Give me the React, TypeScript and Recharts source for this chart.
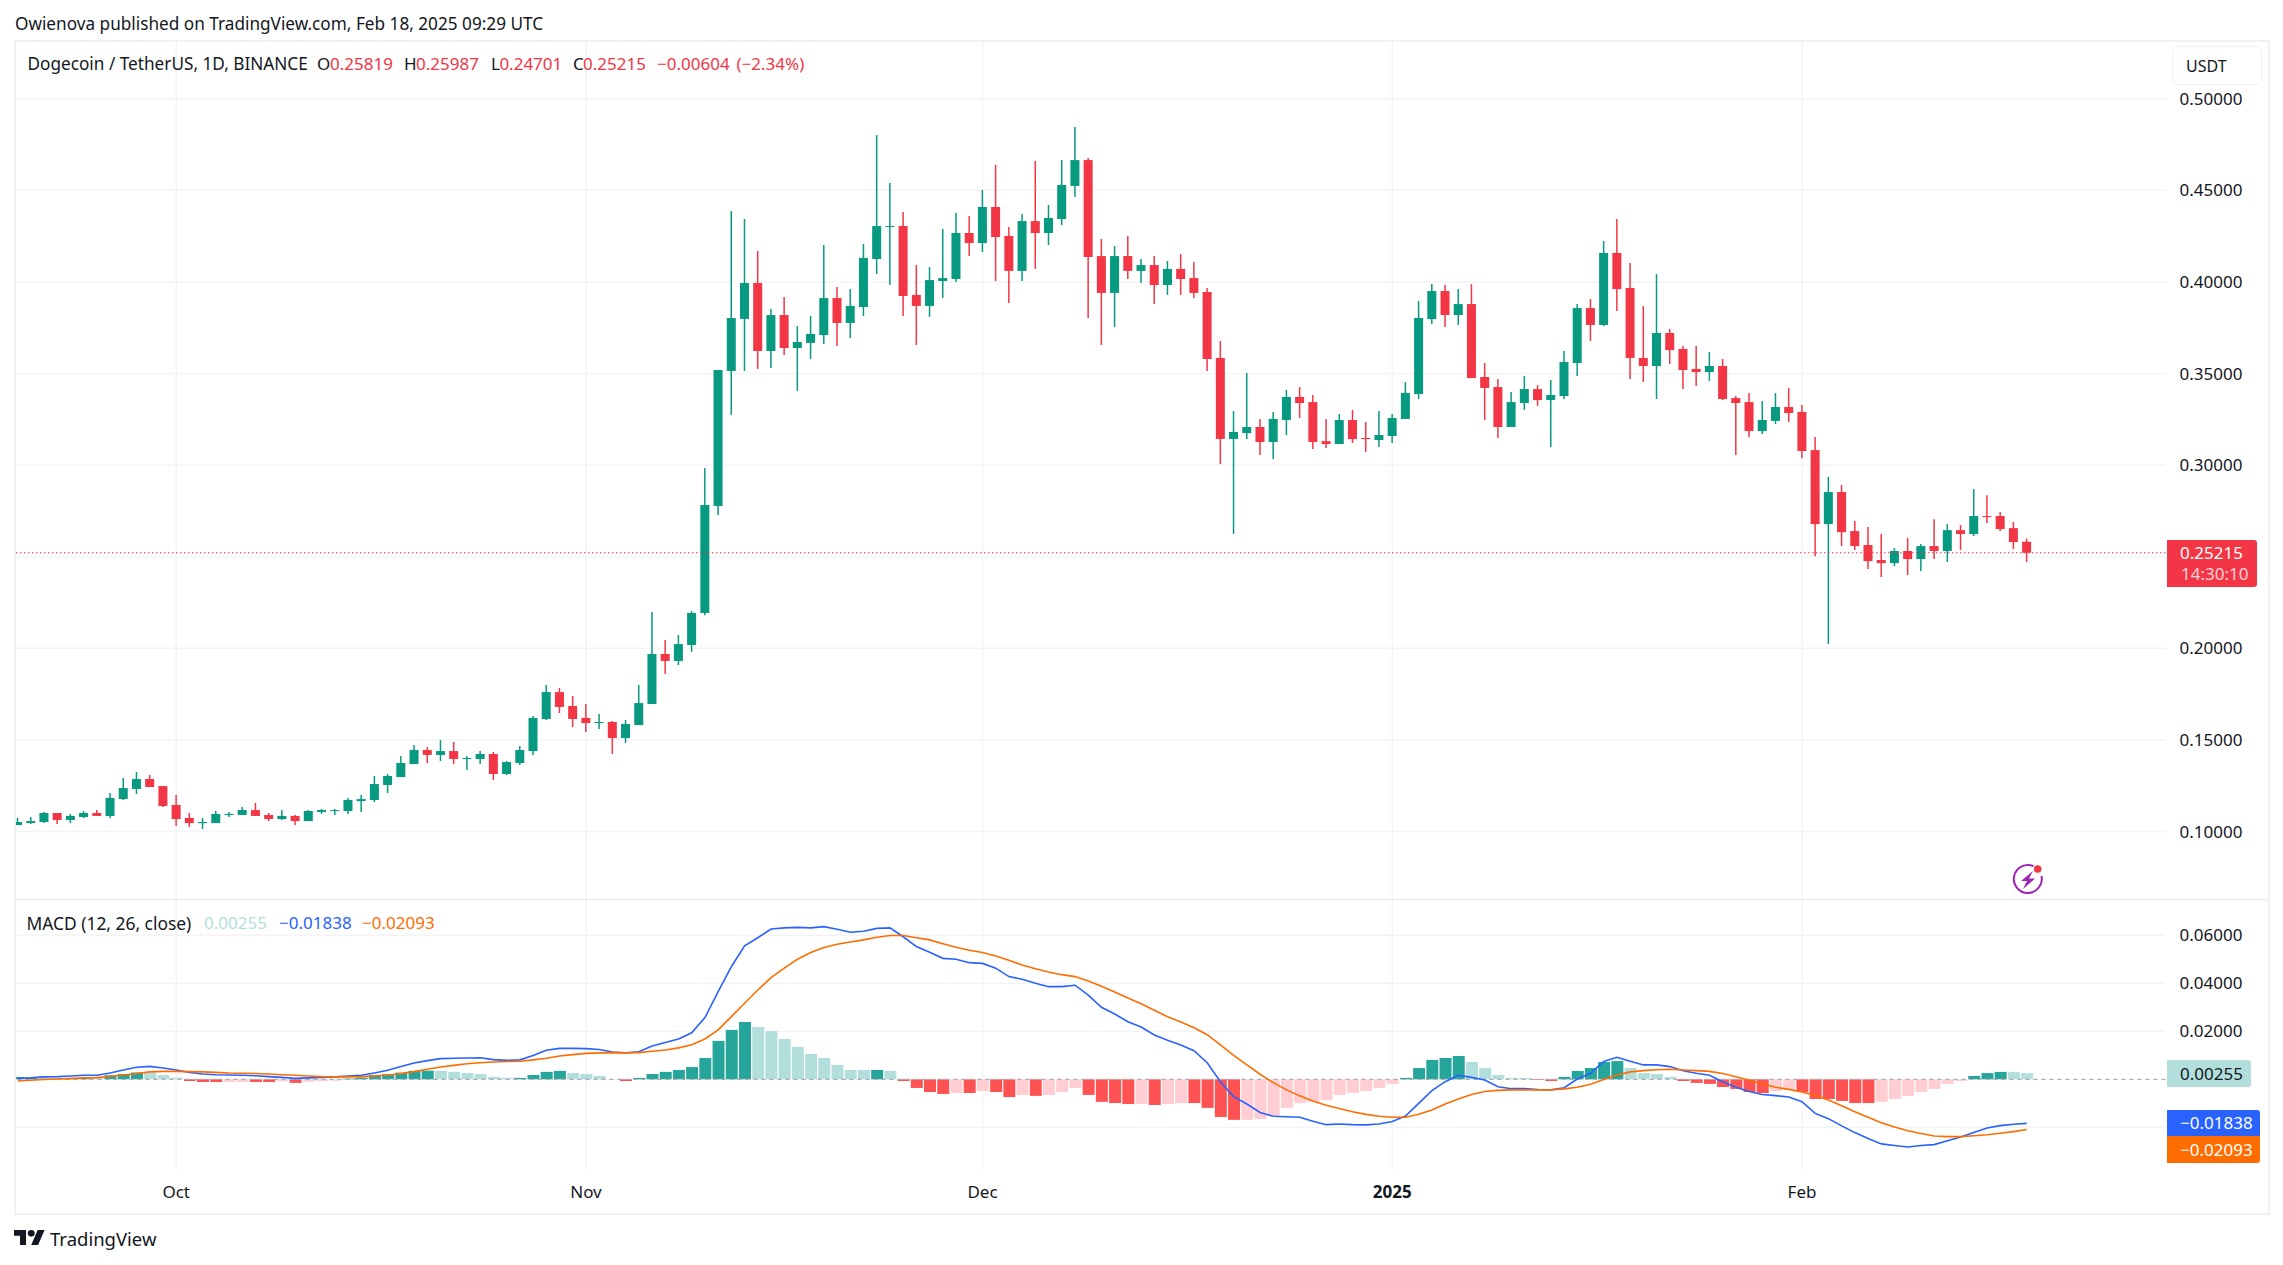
import React from "react";
import { ComposedChart, Bar, Line, Cell, XAxis, YAxis, CartesianGrid, ReferenceLine } from "recharts";

// Daily candles, Sep 19 2024 to Feb 18 2025
const opens = [
  .1035,.1046,.1052,.1101,.1063,.1079,.1101,.1085,.1177,.1232,.1287,.1248,
  .1145,.1074,.1046,.1046,.1090,.1090,.1117,.1090,.1068,.1085,.1057,.1106,.1112,.1112,.1166,.1172,.1254,.1297,.1368,.1445,.1418,.1439,.1396,.1396,.1423,.1314,.1374,.1439,.1614,.1761,.1685,
  .1620,.1592,.1598,.1510,.1581,.1696,.1969,.1931,.2018,.2193,.2777,.3514,.3798,.3994,.3623,.3819,.3639,.3667,.3710,.3912,.3776,.3863,.4125,.4300,.4305,.3929,.3869,.4005,.4016,.4267,
  .4212,.4409,.4251,.4060,.4332,.4267,.4343,.4524,.4665,.4141,.3940,.4141,.4060,.4092,.3983,.4071,.4021,.3945,.3585,.3143,.3175,.3208,.3126,.3246,.3372,.3344,.3131,.3115,.3246,.3148,.3137,
  .3159,.3252,.3388,.3797,.3950,.3819,.3879,.3481,.3426,.3208,.3339,.3415,.3355,.3377,.3557,.3857,.3765,.4158,.3967,.3585,.3541,.3721,.3634,.3525,.3508,.3541,.3366,.3344,.3186,.3241,.3317,
  .3290,.3082,.2678,.2853,.2640,.2564,.2482,.2465,.2531,.2487,.2558,.2531,.2645,.2624,.2722,.2722,.2656,.25819,
];
const highs = [
  .1074,.1079,.1106,.1101,.1096,.1112,.1117,.1210,.1292,.1325,.1308,.1248,
  .1199,.1101,.1074,.1112,.1106,.1134,.1156,.1101,.1117,.1090,.1117,.1123,.1123,.1183,.1199,.1303,.1314,.1412,.1472,.1461,.1499,.1489,.1412,.1439,.1434,.1385,.1467,.1630,.1800,.1783,.1740,
  .1696,.1641,.1603,.1609,.1800,.2198,.2045,.2073,.2204,.2984,.3519,.4387,.4343,.4169,.3852,.3918,.3759,.3814,.4202,.3972,.3961,.4207,.4802,.4540,.4382,.4092,.4081,.4289,.4376,.4360,
  .4502,.4638,.4300,.4371,.4660,.4420,.4665,.4846,.4676,.4234,.4196,.4251,.4125,.4141,.4114,.4152,.4109,.3967,.3677,.3295,.3503,.3252,.3290,.3410,.3426,.3383,.3252,.3279,.3301,.3235,.3295,
  .3279,.3454,.3896,.3988,.3983,.3961,.3988,.3557,.3470,.3399,.3486,.3437,.3464,.3623,.3879,.3907,.4223,.4343,.4103,.3868,.4043,.3743,.3650,.3650,.3617,.3579,.3377,.3393,.3350,.3393,.3421,
  .3328,.3153,.2935,.2891,.2695,.2662,.2624,.2547,.2602,.2569,.2705,.2678,.2673,.2869,.2836,.2744,.2689,.25987,
];
const lows = [
  .1035,.1041,.1046,.1041,.1046,.1074,.1085,.1074,.1172,.1205,.1243,.1134,
  .1030,.1025,.1014,.1046,.1079,.1090,.1085,.1057,.1063,.1035,.1057,.1096,.1090,.1096,.1106,.1161,.1210,.1297,.1368,.1374,.1385,.1368,.1336,.1368,.1281,.1308,.1363,.1418,.1609,.1647,.1570,
  .1543,.1559,.1423,.1483,.1581,.1696,.1860,.1909,.1980,.2180,.2728,.3274,.3514,.3525,.3530,.3601,.3405,.3579,.3661,.3650,.3694,.3814,.4043,.3983,.3814,.3656,.3809,.3912,.4000,.4141,
  .4163,.4005,.3885,.4005,.4071,.4202,.4311,.4464,.3803,.3656,.3754,.4016,.3994,.3880,.3929,.3929,.3912,.3514,.3006,.2624,.3142,.3055,.3033,.3164,.3257,.3088,.3093,.3115,.3121,.3071,.3099,
  .3121,.3252,.3361,.3770,.3754,.3765,.3475,.3246,.3148,.3208,.3301,.3323,.3099,.3361,.3486,.3677,.3759,.3841,.3470,.3454,.3361,.3552,.3415,.3432,.3459,.3355,.3055,.3153,.3170,.3224,.3235,
  .3038,.2503,.2023,.2558,.2536,.2433,.2389,.2449,.2400,.2422,.2487,.2471,.2536,.2613,.2684,.2640,.2542,.24701,
];
const closes = [
  .1052,.1057,.1101,.1063,.1085,.1101,.1085,.1183,.1237,.1287,.1243,.1139,
  .1068,.1046,.1052,.1096,.1096,.1117,.1085,.1068,.1085,.1057,.1112,.1117,.1117,.1172,.1177,.1259,.1303,.1374,.1445,.1418,.1439,.1396,.1401,.1423,.1314,.1379,.1445,.1620,.1761,.1680,.1614,
  .1592,.1598,.1510,.1587,.1701,.1969,.1931,.2023,.2193,.2782,.3519,.3803,.3994,.3623,.3819,.3639,.3672,.3716,.3912,.3776,.3869,.4131,.4305,.4305,.3923,.3869,.4010,.4021,.4267,.4212,
  .4409,.4245,.4060,.4332,.4267,.4349,.4529,.4665,.4136,.3940,.4141,.4060,.4092,.3983,.4071,.4016,.3940,.3579,.3143,.3181,.3208,.3126,.3252,.3372,.3339,.3126,.3115,.3246,.3142,.3142,.3164,
  .3257,.3394,.3803,.3950,.3819,.3879,.3475,.3421,.3208,.3344,.3415,.3355,.3383,.3563,.3857,.3765,.4158,.3961,.3585,.3541,.3721,.3628,.3519,.3508,.3541,.3361,.3339,.3186,.3246,.3317,.3284,
  .3077,.2678,.2853,.2634,.2558,.2476,.2465,.2531,.2487,.2558,.2531,.2645,.2624,.2722,.2716,.2651,.2580,.25215,
];

// MACD pane, one value per candle
const macdLine = [
  .0004,.0006,.0010,.0011,.0014,.0017,.0017,.0026,.0039,.0050,.0054,.0047,
  .0039,.0029,.0022,.0019,.0018,.0017,.0015,.0011,.0008,.0004,.0006,.0008,.0010,.0014,.0017,.0026,.0038,.0053,.0068,.0078,.0086,.0088,.0089,.0090,.0082,.0079,.0081,.0099,.0121,.0129,.0129,
  .0128,.0124,.0114,.0110,.0115,.0139,.0153,.0168,.0194,.0257,.0365,.0469,.0556,.0590,.0626,.0631,.0633,.0631,.0636,.0625,.0613,.0617,.0629,.0631,.0594,.0553,.0529,.0504,.0500,.0486,
  .0483,.0463,.0428,.0417,.0400,.0386,.0386,.0392,.0351,.0300,.0272,.0240,.0218,.0185,.0163,.0143,.0119,.0069,-.0010,-.0072,-.0103,-.0138,-.0154,-.0156,-.0158,-.0175,-.0189,-.0186,-.0189,-.0190,-.0186,
  -.0176,-.0153,-.0100,-.0047,-.0010,.0017,.0008,-.0003,-.0031,-.0039,-.0039,-.0043,-.0044,-.0035,.0001,.0025,.0074,.0092,.0075,.0060,.0060,.0053,.0036,.0025,.0017,-.0010,-.0033,-.0051,-.0063,-.0068,-.0074,
  -.0093,-.0142,-.0164,-.0194,-.0222,-.0247,-.0269,-.0276,-.0282,-.0276,-.0272,-.0256,-.0240,-.0222,-.0203,-.0193,-.0187,-.01838,
];
const signalLine = [
  -.0007,-.0004,-.0001,.0001,.0003,.0006,.0007,.0013,.0018,.0024,.0031,.0033,
  .0033,.0032,.0031,.0029,.0026,.0025,.0024,.0022,.0019,.0017,.0014,.0011,.0010,.0010,.0011,.0014,.0018,.0024,.0032,.0042,.0051,.0058,.0065,.0069,.0072,.0074,.0075,.0081,.0088,.0097,.0103,
  .0108,.0110,.0111,.0110,.0111,.0117,.0122,.0131,.0144,.0168,.0206,.0261,.0317,.0372,.0424,.0463,.0500,.0528,.0549,.0563,.0572,.0581,.0592,.0599,.0599,.0590,.0581,.0565,.0550,.0538,
  .0528,.0514,.0496,.0476,.0461,.0447,.0436,.0428,.0410,.0388,.0364,.0339,.0315,.0288,.0261,.0239,.0215,.0186,.0143,.0100,.0060,.0021,-.0014,-.0044,-.0069,-.0090,-.0108,-.0122,-.0135,-.0146,-.0154,
  -.0158,-.0158,-.0146,-.0128,-.0103,-.0082,-.0063,-.0051,-.0046,-.0044,-.0044,-.0044,-.0044,-.0040,-.0033,-.0021,-.0001,.0018,.0031,.0036,.0040,.0042,.0039,.0036,.0033,.0024,.0011,-.0004,-.0019,-.0033,-.0042,
  -.0053,-.0067,-.0086,-.0110,-.0135,-.0158,-.0181,-.0199,-.0214,-.0226,-.0236,-.0239,-.0239,-.0235,-.0231,-.0225,-.0218,-.02093,
];
const histogram = [
  .0010,.0008,.0007,.0006,.0006,.0006,.0006,.0017,.0022,.0028,.0028,.0018,
  .0006,-.0007,-.0011,-.0011,-.0011,-.0011,-.0011,-.0011,-.0008,-.0015,-.0010,-.0007,-.0006,.0003,.0007,.0017,.0021,.0028,.0035,.0036,.0035,.0031,.0026,.0022,.0010,.0006,.0006,.0018,.0031,.0035,.0026,
  .0022,.0014,.0001,-.0007,.0006,.0022,.0031,.0039,.0051,.0089,.0160,.0206,.0239,.0218,.0201,.0168,.0135,.0106,.0089,.0060,.0039,.0039,.0039,.0035,-.0007,-.0036,-.0053,-.0061,-.0057,-.0057,
  -.0049,-.0053,-.0074,-.0065,-.0069,-.0065,-.0053,-.0036,-.0065,-.0094,-.0099,-.0103,-.0103,-.0107,-.0103,-.0099,-.0099,-.0119,-.0157,-.0169,-.0169,-.0165,-.0153,-.0119,-.0099,-.0094,-.0086,-.0065,-.0057,-.0049,-.0036,
  -.0019,.0006,.0047,.0081,.0089,.0097,.0072,.0047,.0018,.0006,.0006,-.0003,-.0007,.0010,.0035,.0047,.0072,.0076,.0047,.0026,.0022,.0010,-.0007,-.0015,-.0019,-.0032,-.0040,-.0053,-.0057,-.0049,-.0044,
  -.0053,-.0082,-.0082,-.0090,-.0099,-.0099,-.0094,-.0082,-.0069,-.0053,-.0040,-.0019,-.0007,.0014,.0026,.0031,.0031,.00255,
];
const histTone = "TTLLLTL" + "TTT" + "LLL" + "RRR" + "PP" + "RR" + "P" + "R" + "PPP" + "TTTTTTT" + "LLLLLL" + "TTTT" + "LLLL" + "R" +
  "TTTTTTTTT" + "LLLLLLLLL" + "T" + "L" + "RRRR" + "P" + "R" + "P" + "RR" + "P" + "R" + "PPP" + "RRRR" + "P" + "R" + "PP" + "RRRR" +
  "PPPPPPPPPPPP" + "TTTTT" + "LLLLL" + "RR" + "TTTTT" + "LLLL" + "RRRRRRR" + "PP" + "RRRRRR" + "PPPPPPP" + "TTT" + "LL";

const timeTicks = [12, 43, 73, 104, 135];
const timeLabels = ["Oct", "Nov", "Dec", "2025", "Feb"];
const priceGridTicks = [0.1, 0.15, 0.2, 0.25, 0.3, 0.35, 0.4, 0.45, 0.5];
// 0.25000 sits behind the last-price tag, so it carries no label
const priceLabelTicks = [0.1, 0.15, 0.2, 0.3, 0.35, 0.4, 0.45, 0.5];
const macdLabelTicks = [0.02, 0.04, 0.06];
const macdGridTicks = [-0.02, 0.02, 0.04, 0.06];
const lastClose = 0.25215;

const candles = opens.map((open, i) => ({ i, open, high: highs[i], low: lows[i], close: closes[i] }));
const macdRows = macdLine.map((macd, i) => ({ i, macd, signal: signalLine[i], hist: histogram[i] }));

const UP = "#089981";
const DOWN = "#F23645";
const GRID = "#f3f4f6";
const FRAME = "#f0f1f4";
const INK = "#131722";
const FONT = "'Noto Sans', sans-serif";
const toneColor: Record<string, string> = { T: "#26A69A", L: "#B2DFDB", R: "#FF5252", P: "#FFCDD2" };
const xDomain = [-0.16, 162.5];

const Candle = (props: any) => {
  const { x, y, width, height, payload } = props;
  const { open, close, high, low } = payload;
  const color = close >= open ? UP : DOWN;
  const yOf = (v: number) => y + ((high - v) / (high - low)) * height;
  const top = yOf(Math.max(open, close));
  const bottom = yOf(Math.min(open, close));
  const cx = x + width / 2;
  return (
    <g>
      <line x1={cx} x2={cx} y1={y} y2={y + height} stroke={color} strokeWidth={1.5} />
      <rect x={x} y={top} width={width} height={Math.max(bottom - top, 1)} fill={color} />
    </g>
  );
};

const TimeTick = (props: any) => {
  const { x, payload } = props;
  const label = timeLabels[timeTicks.indexOf(payload.value)];
  return (
    <text x={x} y={291.7} textAnchor="middle" dominantBaseline="central" fontFamily={FONT} fontSize={17}
      fontWeight={label === "2025" ? 700 : 400} fill={INK}>
      {label}
    </text>
  );
};

const T = ({ x, y, c = INK, s = 17, children }: any) => (
  <div style={{ position: "absolute", left: x, top: y - 10, height: 20, lineHeight: "20px", color: c, fontSize: s, fontFamily: FONT, whiteSpace: "pre" }}>
    {children}
  </div>
);

const Box = ({ x, y, w, h, bg, r = "0", extra = {} }: any) => (
  <div style={{ position: "absolute", left: x, top: y, width: w, height: h, background: bg, borderRadius: r, ...extra }} />
);

export default function App() {
  return (
    <div style={{ position: "absolute", left: 0, top: 0, width: 2283, height: 1265, background: "#fff", overflow: "hidden" }}>
      <div style={{ position: "absolute", left: 0, top: 0 }}>
        <ComposedChart width={2283} height={900} data={candles} margin={{ top: 41, left: 15.5, right: 16, bottom: 1 }}>
          <CartesianGrid stroke={GRID} strokeWidth={1.5} horizontalValues={priceGridTicks} verticalValues={timeTicks} />
          <XAxis dataKey="i" type="number" domain={xDomain} allowDataOverflow ticks={timeTicks} hide />
          <YAxis orientation="right" width={101.5} domain={[0.06316, 0.5315]} allowDataOverflow ticks={priceLabelTicks}
            tickFormatter={(v: number) => v.toFixed(5)} axisLine={false} tickLine={false} tickSize={0} tickMargin={14}
            tick={{ fontFamily: FONT, fontSize: 17, fill: INK }} interval={0} />
          <ReferenceLine y={lastClose} stroke={DOWN} strokeWidth={1.1} strokeDasharray="1.5 2.5" />
          <Bar dataKey={(d: any) => [d.low, d.high]} barSize={9} shape={<Candle />} isAnimationActive={false} />
        </ComposedChart>
      </div>

      <div style={{ position: "absolute", left: 0, top: 900 }}>
        <ComposedChart width={2283} height={312} data={macdRows} margin={{ top: 0, left: 15.5, right: 16, bottom: 0 }}>
          <CartesianGrid stroke={GRID} strokeWidth={1.5} horizontalValues={macdGridTicks} verticalValues={timeTicks} />
          <XAxis dataKey="i" type="number" domain={xDomain} allowDataOverflow ticks={timeTicks} height={43}
            axisLine={false} tickLine={false} interval={0} tick={<TimeTick />} />
          <YAxis orientation="right" width={101.5} domain={[-0.03737, 0.07471]} allowDataOverflow ticks={macdLabelTicks}
            tickFormatter={(v: number) => v.toFixed(5)} axisLine={false} tickLine={false} tickSize={0} tickMargin={14}
            tick={{ fontFamily: FONT, fontSize: 17, fill: INK }} interval={0} />
          <Bar dataKey="hist" barSize={12} isAnimationActive={false}>
            {histTone.split("").map((tone, i) => (
              <Cell key={i} fill={toneColor[tone]} />
            ))}
          </Bar>
          <ReferenceLine y={0} stroke="#a9acb3" strokeWidth={1.2} strokeDasharray="4 4" />
          <Line dataKey="macd" type="linear" stroke="#2962FF" strokeWidth={1.6} dot={false} isAnimationActive={false} />
          <Line dataKey="signal" type="linear" stroke="#FF6D00" strokeWidth={1.6} dot={false} isAnimationActive={false} />
        </ComposedChart>
      </div>

      {/* frame */}
      <Box x={14} y={40} w={2252} h={1171} bg="transparent" extra={{ border: `2px solid ${FRAME}`, boxSizing: "content-box" }} />
      <Box x={15} y={898.5} w={2252} h={1.5} bg="#e6e8ee" />

      {/* header and legend */}
      <T x={15} y={24} s={17.2}>Owienova published on TradingView.com, Feb 18, 2025 09:29 UTC</T>
      <T x={27.5} y={64} s={17.2}>Dogecoin / TetherUS, 1D, BINANCE</T>
      <T x={317} y={64}>O</T><T x={330} y={64} c={DOWN}>0.25819</T>
      <T x={404} y={64}>H</T><T x={416} y={64} c={DOWN}>0.25987</T>
      <T x={491} y={64}>L</T><T x={499.4} y={64} c={DOWN}>0.24701</T>
      <T x={573} y={64}>C</T><T x={583} y={64} c={DOWN}>0.25215</T>
      <T x={657} y={64} c={DOWN}>−0.00604</T><T x={736.5} y={64} c={DOWN}>(−2.34%)</T>

      <T x={26.5} y={923} s={17.4}>MACD (12, 26, close)</T>
      <T x={204} y={923} c="#B2DFDB">0.00255</T>
      <T x={279} y={923} c="#2962FF">−0.01838</T>
      <T x={362} y={923} c="#FF6D00">−0.02093</T>

      {/* USDT button */}
      <Box x={2171.5} y={46} w={90} h={39} bg="#fff" r="6px" extra={{ border: "1.5px solid #f0f1f4", boxSizing: "border-box" }} />
      <T x={2186} y={66} s={16}>USDT</T>

      {/* last price */}
      <Box x={2167} y={539.5} w={89.5} h={47} bg={DOWN} r="0 3px 3px 0" />
      <T x={2180} y={553} c="#fff">0.25215</T>
      <T x={2181} y={574} c="#ffffffcc">14:30:10</T>

      {/* MACD last values */}
      <Box x={2167} y={1060} w={84} h={26.7} bg="#B2DFDB" r="0 3px 3px 0" />
      <T x={2180} y={1073.5}>0.00255</T>
      <Box x={2167} y={1110} w={93} h={26} bg="#2962FF" r="0 3px 0 0" />
      <T x={2180} y={1123} c="#fff">−0.01838</T>
      <Box x={2167} y={1136} w={93} h={27} bg="#FF6D00" r="0 0 3px 0" />
      <T x={2180} y={1149.5} c="#fff">−0.02093</T>

      {/* purple bolt badge */}
      <svg style={{ position: "absolute", left: 2007, top: 859 }} width={42} height={42} viewBox="0 0 42 42">
        <path d="M 26.5 7.2 A 14 14 0 1 0 34.5 17" fill="none" stroke="#9c27b0" strokeWidth={2} />
        <path d="M 26 12 L 14 22 L 20 22 L 16 30 L 28 19.5 L 22 19.5 Z" fill="#9c27b0" />
        <circle cx={30.7} cy={10} r={3.8} fill="#F23645" />
      </svg>

      {/* brand */}
      <svg style={{ position: "absolute", left: 14, top: 1230 }} width={31} height={15} viewBox="0 4 36 18" preserveAspectRatio="none">
        <path d="M14 22H7V11H0V4h14v18zM28 22h-8l7.5-18h8L28 22z" fill={INK} />
        <circle cx={20} cy={8} r={4} fill={INK} />
      </svg>
      <T x={50} y={1239} s={18.5}>TradingView</T>
    </div>
  );
}
